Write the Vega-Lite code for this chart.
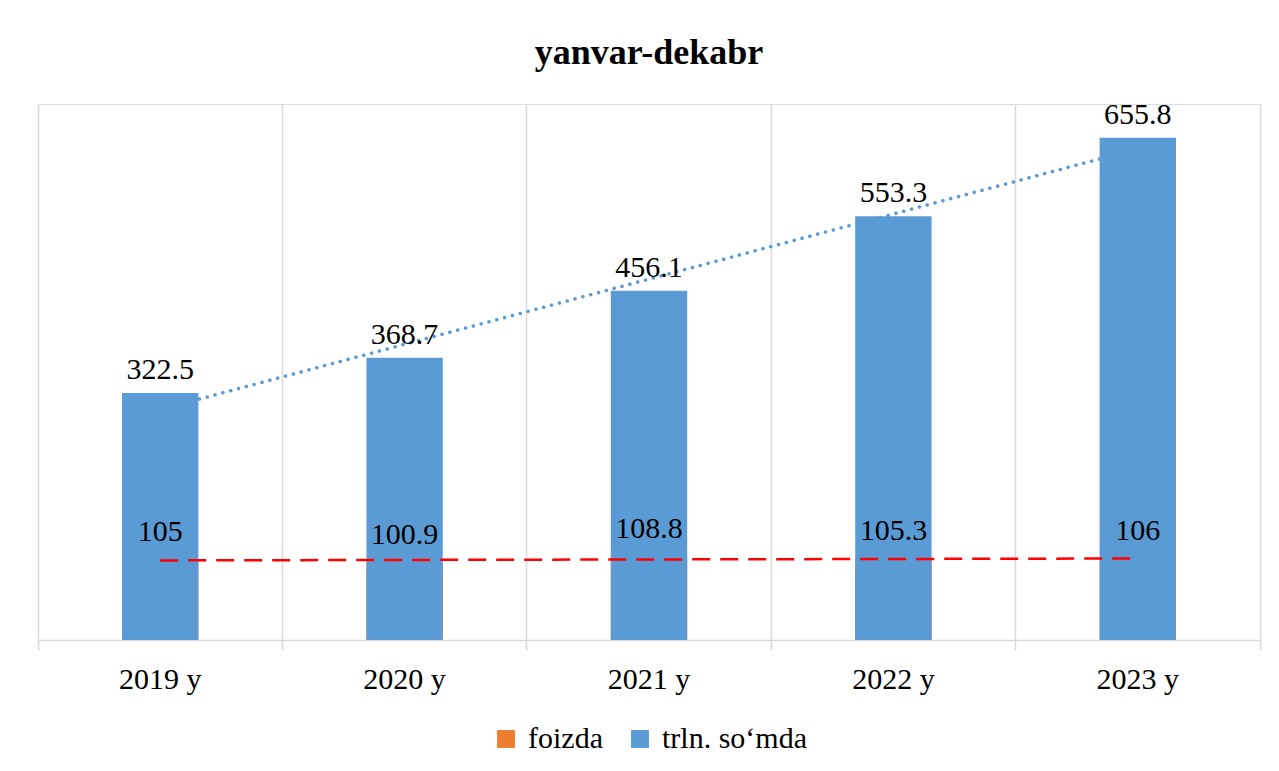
{
  "$schema": "https://vega.github.io/schema/vega-lite/v6.json",
  "width": 1222,
  "height": 536,
  "autosize": {"type": "none"},
  "padding": {"left": 38, "top": 104, "right": 19, "bottom": 131},
  "background": "white",
  "title": {"text": "yanvar-dekabr", "font": "Liberation Serif", "fontSize": 36, "fontWeight": "bold", "color": "#000000", "anchor": "middle", "frame": "group", "offset": 28},
  "config": {"legend": {"layout": {"bottom": {"anchor": "middle"}}}},
  "data": {"values": [
    {"year": 2019, "series": "foizda", "value": 105},
    {"year": 2020, "series": "foizda", "value": 100.9},
    {"year": 2021, "series": "foizda", "value": 108.8},
    {"year": 2022, "series": "foizda", "value": 105.3},
    {"year": 2023, "series": "foizda", "value": 106},
    {"year": 2019, "series": "trln. so‘mda", "value": 322.5},
    {"year": 2020, "series": "trln. so‘mda", "value": 368.7},
    {"year": 2021, "series": "trln. so‘mda", "value": 456.1},
    {"year": 2022, "series": "trln. so‘mda", "value": 553.3},
    {"year": 2023, "series": "trln. so‘mda", "value": 655.8}
  ]},
  "encoding": {
    "x": {"field": "year", "type": "ordinal",
      "scale": {"paddingInner": 0, "paddingOuter": 0},
      "axis": {"title": null, "labelAngle": 0, "labelExpr": "(datum.label == null || datum.label == '') ? '' : datum.label + ' y'", "labelFont": "Liberation Serif", "labelFontSize": 30, "labelColor": "#000000", "labelPadding": 14,
        "bandPosition": 1, "tickExtra": true, "tickSize": 10, "tickColor": "#D9D9D9", "tickWidth": 1.5,
        "grid": true, "gridColor": "#D9D9D9", "gridWidth": 1.5, "domainColor": "#D9D9D9", "domainWidth": 1.5}},
    "y": {"field": "value", "type": "quantitative", "stack": null, "scale": {"domain": [0, 700]}, "axis": null}
  },
  "layer": [
    {
      "transform": [{"filter": "datum.series !== 'foizda'"}, {"regression": "value", "on": "year"}],
      "mark": {"type": "line", "color": "#5B9BD5", "strokeWidth": 3.5, "strokeDash": [0.1, 8], "strokeCap": "round"}
    },
    {
      "mark": {"type": "bar", "width": {"band": 0.3125}},
      "encoding": {
        "color": {"field": "series", "type": "nominal",
          "scale": {"domain": ["foizda", "trln. so‘mda"], "range": ["#ED7D31", "#5B9BD5"]},
          "legend": {"title": null, "orient": "bottom", "direction": "horizontal", "offset": 30, "symbolType": "square", "symbolSize": 320, "symbolStrokeWidth": 0, "labelFont": "Liberation Serif", "labelFontSize": 30, "labelColor": "#000000", "labelOffset": 7, "columnPadding": 22}
        }
      }
    },
    {
      "transform": [{"filter": "datum.series === 'foizda'"}, {"regression": "value", "on": "year"}],
      "mark": {"type": "line", "color": "#FF0000", "strokeWidth": 2.5, "strokeDash": [18, 10]}
    },
    {
      "transform": [{"filter": "datum.series !== 'foizda'"}],
      "mark": {"type": "text", "font": "Liberation Serif", "fontSize": 30, "color": "#000000", "baseline": "alphabetic", "dy": -14},
      "encoding": {"text": {"field": "value", "type": "quantitative"}}
    },
    {
      "transform": [{"filter": "datum.series === 'foizda'"}],
      "mark": {"type": "text", "font": "Liberation Serif", "fontSize": 30, "color": "#000000", "baseline": "alphabetic", "dy": -19},
      "encoding": {"text": {"field": "value", "type": "quantitative"}}
    }
  ]
}
